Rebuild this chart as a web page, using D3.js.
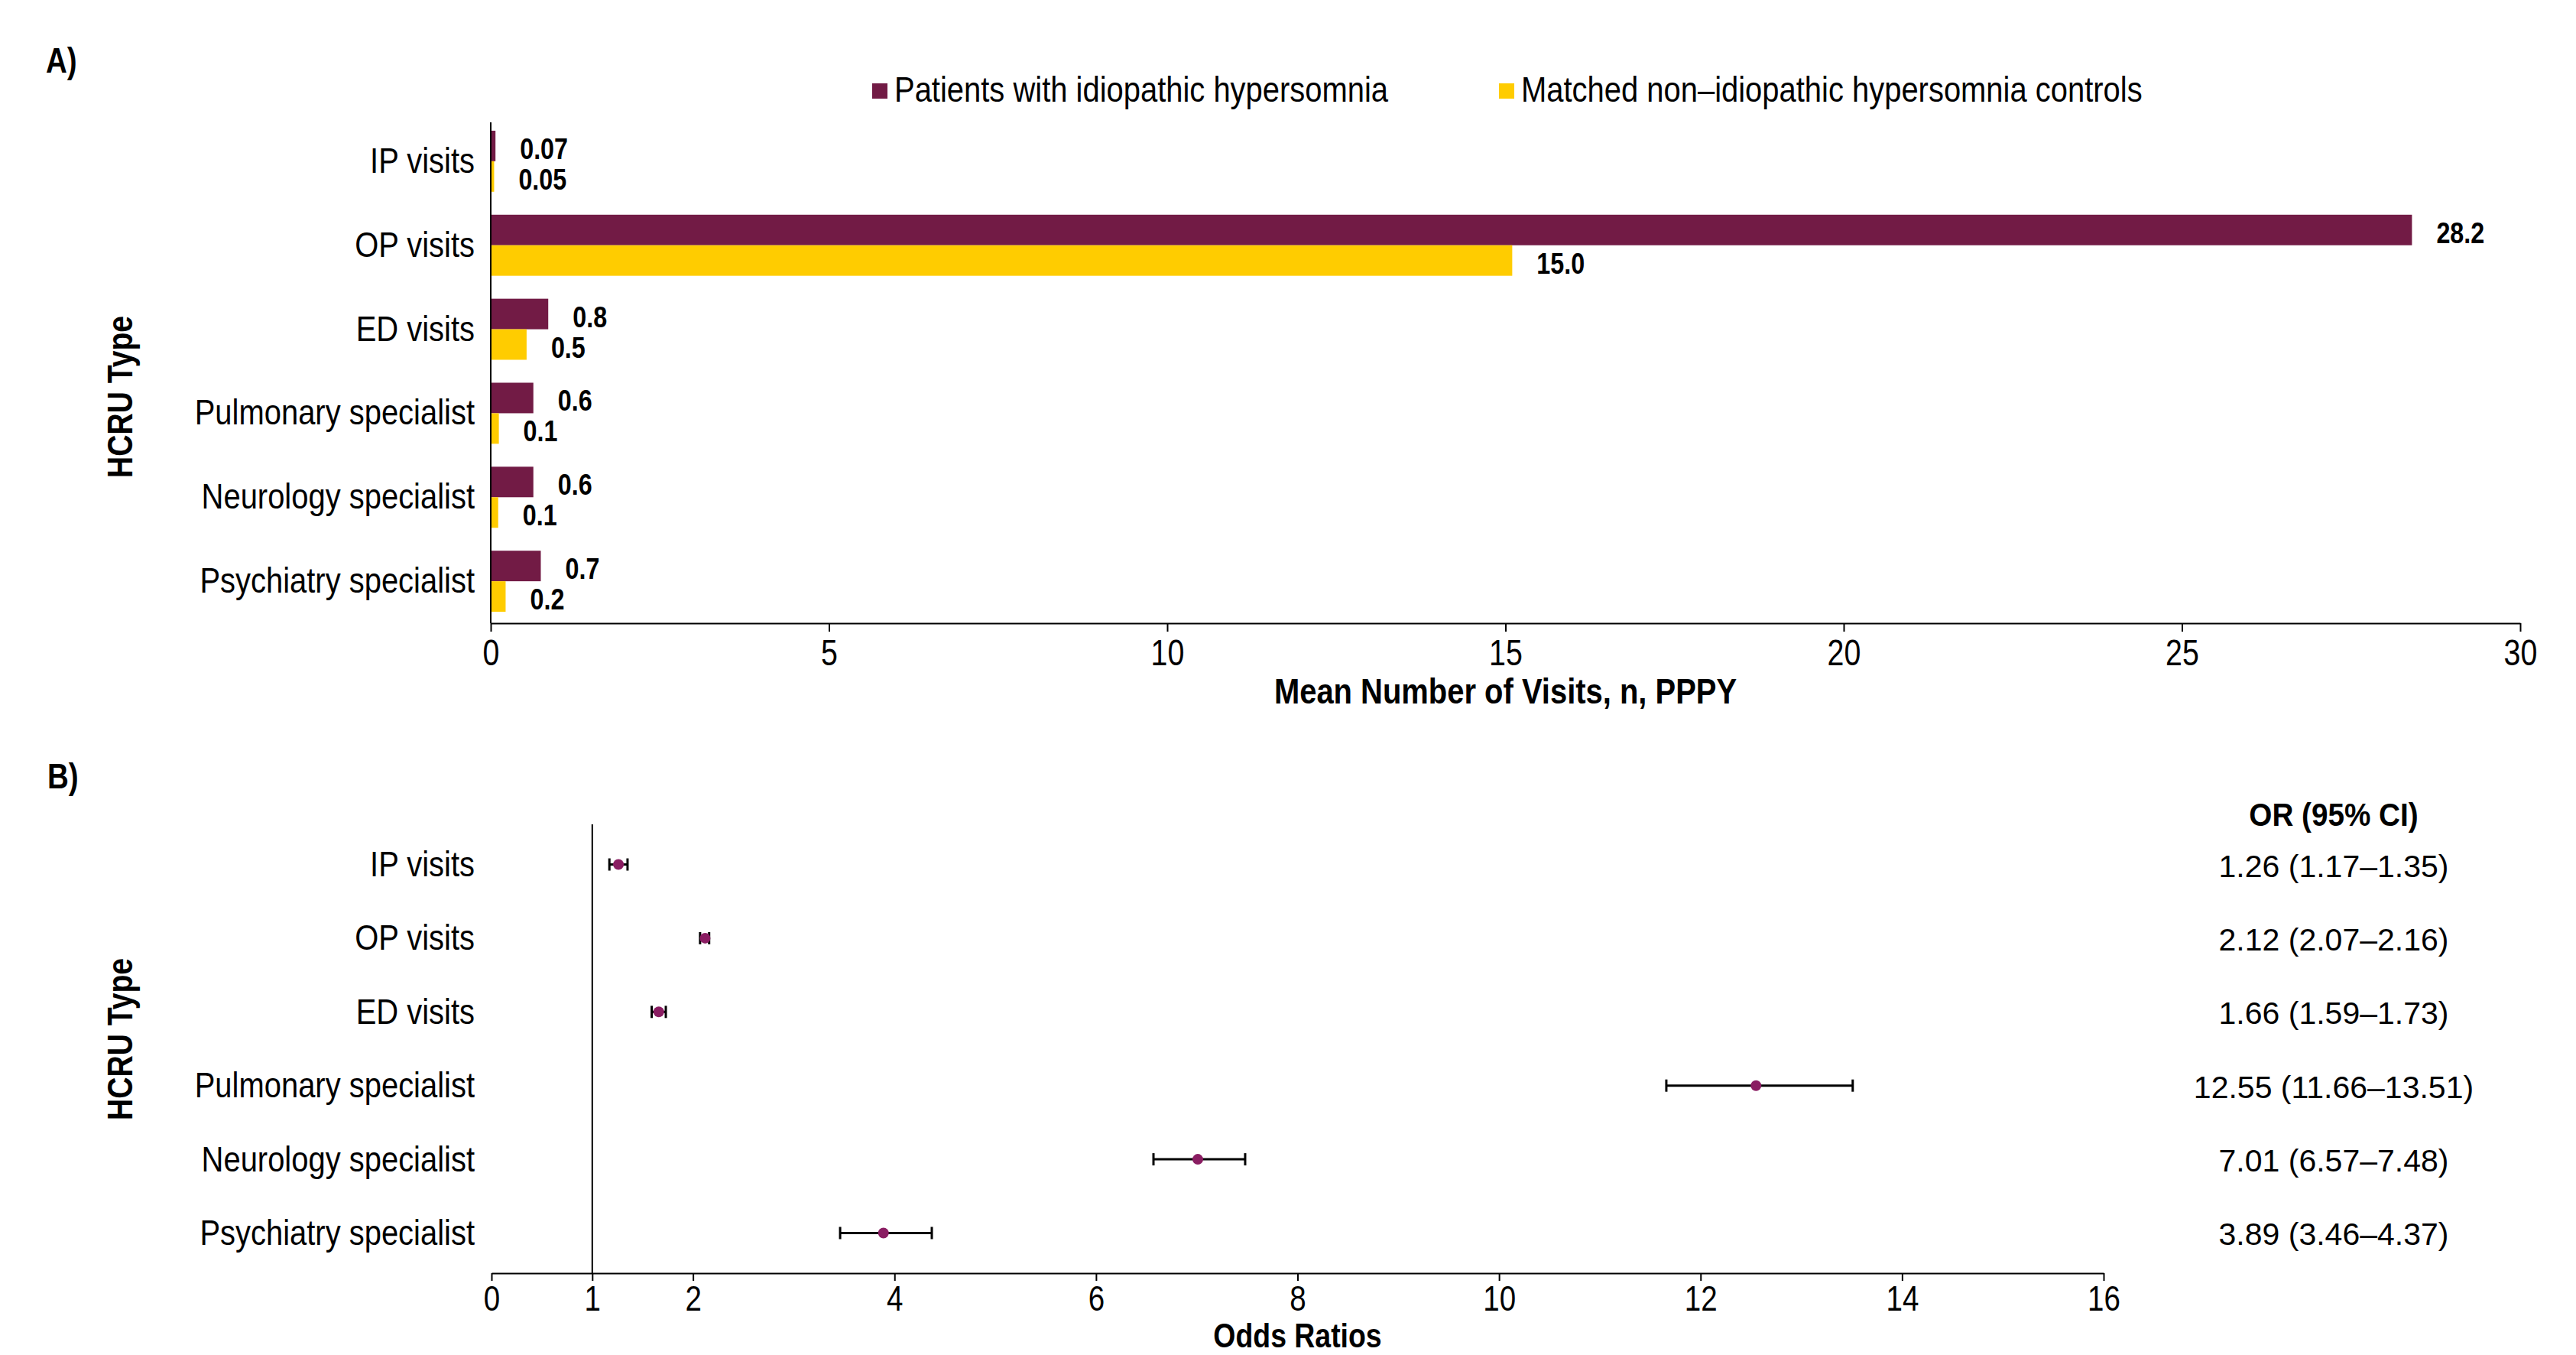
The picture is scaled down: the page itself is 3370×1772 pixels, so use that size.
<!DOCTYPE html>
<html>
<head>
<meta charset="utf-8">
<script src="https://cdn.jsdelivr.net/npm/d3@7"></script>
<style>
  body { margin: 0; background: #fff; }
  svg { display: block; }
  text { font-family: "Liberation Sans", Arial, sans-serif; }
  .axis path, .axis line { stroke: #000; stroke-width: 2; }
</style>
</head>
<body>
<svg id="chart" width="3370" height="1772"></svg>
<script>
// categories (same for both panels)
var categories = ["IP visits", "OP visits", "ED visits", "Pulmonary specialist", "Neurology specialist", "Psychiatry specialist"];

// panel A - mean visits PPPY
var seriesNames = ["Patients with idiopathic hypersomnia", "Matched non\u2013idiopathic hypersomnia controls"];
var ihValues   = [0.07, 28.4, 0.85, 0.63, 0.63, 0.74];
var ctrlValues = [0.05, 15.1, 0.53, 0.12, 0.11, 0.22];
var ihLabels   = ["0.07", "28.2", "0.8", "0.6", "0.6", "0.7"];
var ctrlLabels = ["0.05", "15.0", "0.5", "0.1", "0.1", "0.2"];
var xTicksA = [0, 5, 10, 15, 20, 25, 30];

// panel B - odds ratios
var orValues = [1.26, 2.12, 1.66, 12.55, 7.01, 3.89];
var orLow    = [1.17, 2.07, 1.59, 11.66, 6.57, 3.46];
var orHigh   = [1.35, 2.16, 1.73, 13.51, 7.48, 4.37];
var xTicksB = [0, 1, 2, 4, 6, 8, 10, 12, 14, 16];

var purple = "#721b45", yellow = "#ffcc00", dotColor = "#8a1d62";
var NARROW = 0.85; // no condensed font installed, squeeze Liberation Sans instead

// horizontal squeeze of text around the given origin (left / center / right)
function squeeze(sel, origin, k) {
    sel.style("transform-box", "fill-box")
       .style("transform-origin", origin + " center")
       .style("transform", "scaleX(" + (k || NARROW) + ")");
    return sel;
}

var chart = d3.select("#chart");

// ---------- Panel A ----------
var xA = d3.scaleLinear().domain([0, 30]).range([642, 3297]);
var yA = d3.scaleBand().domain(categories).range([156, 815]).paddingInner(0.273).paddingOuter(0.136);
var ySub = d3.scaleBand().domain([0, 1]).range([0, yA.bandwidth()]);

squeeze(chart.append("text").text("A)")
    .attr("x", 60).attr("y", 95).attr("font-size", 47).attr("font-weight", 700), "left", 0.82);

// legend
var legendX = [1141, 1961];
var legendColors = [purple, yellow];
seriesNames.forEach(function (name, i) {
    chart.append("rect").attr("x", legendX[i]).attr("y", 109).attr("width", 20).attr("height", 20)
        .attr("fill", legendColors[i]);
    squeeze(chart.append("text").text(name)
        .attr("x", legendX[i] + 29).attr("y", 133).attr("font-size", 47), "left");
});

var rowsA = categories.map(function (c, i) {
    return { cat: c, vals: [ihValues[i], ctrlValues[i]], labels: [ihLabels[i], ctrlLabels[i]] };
});

var groups = chart.selectAll(".grpA").data(rowsA).enter().append("g")
    .attr("transform", function (d) { return "translate(0," + yA(d.cat) + ")"; });

groups.selectAll("rect").data(function (d) { return d.vals; }).enter().append("rect")
    .attr("x", xA(0))
    .attr("y", function (d, i) { return ySub(i); })
    .attr("width", function (d) { return xA(d) - xA(0); })
    .attr("height", ySub.bandwidth())
    .attr("fill", function (d, i) { return legendColors[i]; });

var valLabels = groups.selectAll("text").data(function (d) { return d.vals.map(function (v, i) { return { v: v, l: d.labels[i] }; }); })
    .enter().append("text")
    .attr("font-weight", 700).attr("font-size", 38)
    .attr("x", function (d) { return xA(d.v) + 32; })
    .attr("y", function (d, i) { return ySub(i) + ySub.bandwidth() / 2 + 17; })
    .text(function (d) { return d.l; });
squeeze(valLabels, "left");

// x axis A
var xAxisA = chart.append("g").attr("class", "axis")
    .attr("transform", "translate(0,815)")
    .call(d3.axisBottom(xA).tickValues(xTicksA).tickSize(11).tickPadding(10).tickSizeOuter(0));
squeeze(xAxisA.selectAll("text").attr("font-size", 48).attr("fill", "#000")
    .style("font-family", "'Liberation Sans', Arial, sans-serif"), "center", 0.82);

// y axis A
var yAxisA = chart.append("g").attr("class", "axis")
    .attr("transform", "translate(642,0)")
    .call(d3.axisLeft(yA).tickSize(0).tickPadding(21));
yAxisA.select(".domain").attr("d", "M0,160V815");
squeeze(yAxisA.selectAll("text").attr("font-size", 47).attr("fill", "#000")
    .style("font-family", "'Liberation Sans', Arial, sans-serif"), "right");

squeeze(chart.append("text").text("Mean Number of Visits, n, PPPY")
    .attr("font-weight", 700).attr("font-size", 47)
    .attr("x", (xA(0) + xA(30)) / 2).attr("y", 920).attr("text-anchor", "middle"), "center");

chart.append("text").text("HCRU Type")
    .attr("font-weight", 700).attr("font-size", 46)
    .attr("transform", "translate(173,519) rotate(-90) scale(" + NARROW + ",1)").attr("text-anchor", "middle");

// ---------- Panel B ----------
var xB = d3.scaleLinear().domain([0, 16]).range([643, 2752]);
var yB = d3.scalePoint().domain(categories).range([1078, 1665]).padding(0.545);

squeeze(chart.append("text").text("B)")
    .attr("font-weight", 700).attr("font-size", 47)
    .attr("x", 62).attr("y", 1031), "left", 0.82);

// reference line at OR = 1
chart.append("line")
    .attr("x1", xB(1)).attr("x2", xB(1)).attr("y1", 1078).attr("y2", 1665)
    .attr("stroke", "#000").attr("stroke-width", 2);

var rowsB = categories.map(function (c, i) {
    return { cat: c, or: orValues[i], lo: orLow[i], hi: orHigh[i] };
});

var forest = chart.selectAll(".rowB").data(rowsB).enter().append("g");
forest.append("line")
    .attr("x1", function (d) { return xB(d.lo); }).attr("x2", function (d) { return xB(d.hi); })
    .attr("y1", function (d) { return yB(d.cat); }).attr("y2", function (d) { return yB(d.cat); })
    .attr("stroke", "#000").attr("stroke-width", 3);
["lo", "hi"].forEach(function (k) {
    forest.append("line")
        .attr("x1", function (d) { return xB(d[k]); }).attr("x2", function (d) { return xB(d[k]); })
        .attr("y1", function (d) { return yB(d.cat) - 8; }).attr("y2", function (d) { return yB(d.cat) + 8; })
        .attr("stroke", "#000").attr("stroke-width", 3);
});
forest.append("circle")
    .attr("cx", function (d) { return xB(d.or); }).attr("cy", function (d) { return yB(d.cat); })
    .attr("r", 7).attr("fill", dotColor);

// OR (95% CI) column
squeeze(chart.append("text").text("OR (95% CI)")
    .attr("font-weight", 700).attr("font-size", 43)
    .attr("x", 3053).attr("y", 1080).attr("text-anchor", "middle"), "center", 0.9);
forest.append("text")
    .attr("font-size", 41)
    .attr("x", 3053).attr("y", function (d) { return yB(d.cat) + 16; }).attr("text-anchor", "middle")
    .text(function (d) {
        return d.or.toFixed(2) + " (" + d.lo.toFixed(2) + "\u2013" + d.hi.toFixed(2) + ")";
    });

// x axis B
var xAxisB = chart.append("g").attr("class", "axis")
    .attr("transform", "translate(0,1665)")
    .call(d3.axisBottom(xB).tickValues(xTicksB).tickSize(10).tickPadding(6).tickSizeOuter(0));
squeeze(xAxisB.selectAll("text").attr("font-size", 47).attr("fill", "#000")
    .style("font-family", "'Liberation Sans', Arial, sans-serif"), "center", 0.82);

// y labels B
var yAxisB = chart.append("g").attr("class", "axis")
    .attr("transform", "translate(643,0)")
    .call(d3.axisLeft(yB).tickSize(0).tickPadding(22));
yAxisB.select(".domain").remove();
squeeze(yAxisB.selectAll("text").attr("font-size", 47).attr("fill", "#000")
    .style("font-family", "'Liberation Sans', Arial, sans-serif"), "right");

squeeze(chart.append("text").text("Odds Ratios")
    .attr("font-weight", 700).attr("font-size", 44)
    .attr("x", (xB(0) + xB(16)) / 2).attr("y", 1762).attr("text-anchor", "middle"), "center");

chart.append("text").text("HCRU Type")
    .attr("font-weight", 700).attr("font-size", 46)
    .attr("transform", "translate(173,1359) rotate(-90) scale(" + NARROW + ",1)").attr("text-anchor", "middle");
</script>
</body>
</html>
